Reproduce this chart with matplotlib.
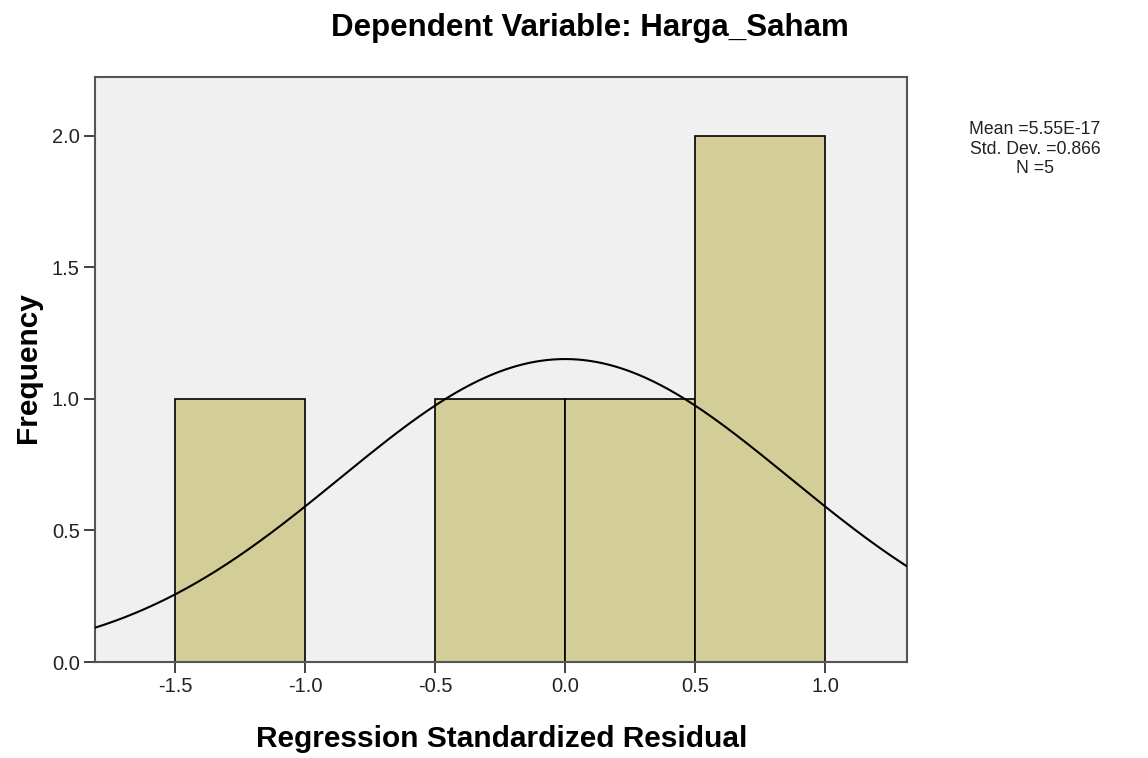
import numpy as np
import matplotlib.pyplot as plt

plt.rcParams['font.family'] = ['Liberation Sans', 'DejaVu Sans']

# histogram bins (residual) and counts
bin_left = [-1.5, -1.0, -0.5, 0.0, 0.5]
counts = [1, 0, 1, 1, 2]
bin_width = 0.5

mean = 5.55e-17
std = 0.866
n = 5

W, H = 1148, 758
fig = plt.figure(figsize=(W/100, H/100), dpi=100)
ax = fig.add_axes([95/W, 1-662/H, (907-95)/W, (662-77)/H])
ax.set_facecolor('#f0f0f0')

ax.bar(bin_left, counts, width=bin_width, align='edge',
       color='#d3ce97', edgecolor='black', linewidth=1.2, zorder=2)

# normal curve scaled to counts
xs = np.linspace(-1.81, 1.32, 400)
ys = n * bin_width / (std * np.sqrt(2*np.pi)) * np.exp(-0.5*((xs-mean)/std)**2)
ax.plot(xs, ys, color='black', linewidth=1.5, zorder=3)

ax.set_xlim(-1.808, 1.315)
ax.set_ylim(0, 2.224)
ax.set_xticks([-1.5, -1.0, -0.5, 0.0, 0.5, 1.0])
ax.set_xticklabels(['-1.5', '-1.0', '-0.5', '0.0', '0.5', '1.0'])
ax.set_yticks([0.0, 0.5, 1.0, 1.5, 2.0])
ax.set_yticklabels(['0.0', '0.5', '1.0', '1.5', '2.0'])
ax.tick_params(labelsize=14.5, length=8, width=1.3, color='#333333', pad=3, labelcolor='#222222')
for s in ax.spines.values():
    s.set_color('#555555')
    s.set_linewidth(1.5)

fig.text(590/W, 1-36/H, 'Dependent Variable: Harga_Saham', fontsize=22.5,
         fontweight='bold', ha='center', va='baseline')
fig.text(502/W, 1-747/H, 'Regression Standardized Residual', fontsize=21.5,
         fontweight='bold', ha='center', va='baseline')
fig.text(28/W, 1-368/H, 'Frequency', fontsize=21.5, fontweight='bold',
         ha='center', va='center', rotation=90)

fig.text(1035/W, 1-149/H, 'Mean =5.55E-17\nStd. Dev. =0.866\nN =5',
         fontsize=12.7, ha='center', va='center', linespacing=1.2, color='#222222')

fig.savefig('out.png', dpi=100)
